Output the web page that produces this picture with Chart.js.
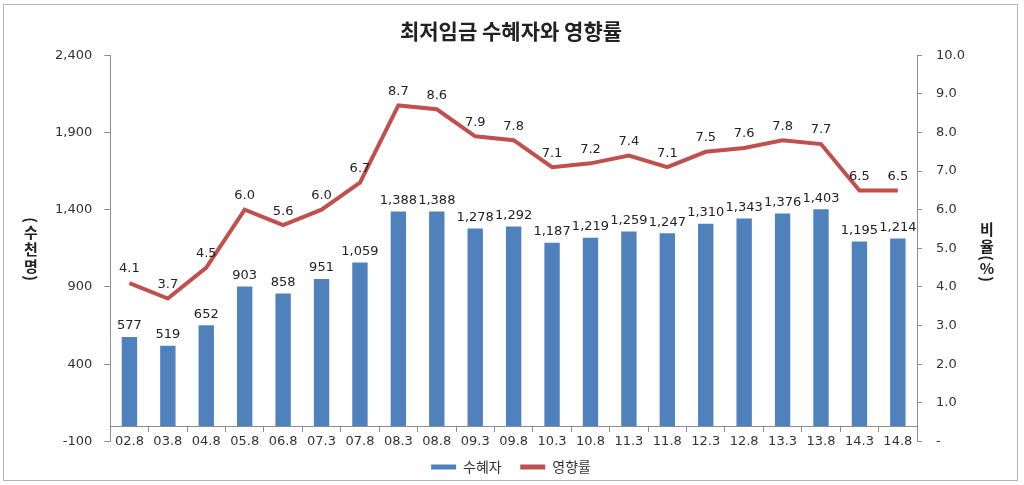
<!DOCTYPE html>
<html><head><meta charset="utf-8">
<script src="https://cdn.jsdelivr.net/npm/chart.js@4.4.1/dist/chart.umd.min.js"></script>
<style>html,body{margin:0;padding:0;background:#fff;}#wrap{position:relative;width:1024px;height:485px;}</style>
</head><body><div id="wrap"><canvas id="c" width="1024" height="485"></canvas></div>
<script>
const categories = ['02.8','03.8','04.8','05.8','06.8','07.3','07.8','08.3','08.8','09.3','09.8','10.3','10.8','11.3','11.8','12.3','12.8','13.3','13.8','14.3','14.8'];
const beneficiaries = [577,519,652,903,858,951,1059,1388,1388,1278,1292,1187,1219,1259,1247,1310,1343,1376,1403,1195,1214];
const impactRate = [4.1,3.7,4.5,6.0,5.6,6.0,6.7,8.7,8.6,7.9,7.8,7.1,7.2,7.4,7.1,7.5,7.6,7.8,7.7,6.5,6.5];
const leftTicks = [-100,400,900,1400,1900,2400];
const rightTicks = [0,1,2,3,4,5,6,7,8,9,10];
const chartTitle = '최저임금 수혜자와 영향률';
const seriesNames = ['수혜자','영향률'];
const leftAxisTitle = '(수천명)';
const rightAxisTitle = '비율(%)';

const KR = '"Noto Sans CJK KR", "Noto Sans", sans-serif';
const NUM = '"DejaVu Sans", sans-serif';
const BLUE = '#4F81BD', RED = '#C0504D', AXIS = '#8c8c8c', TXT = '#333333';
const fmt = v => String(v).replace(/\B(?=(\d{3})+(?!\d))/g, ',');

function drawStack(ctx, x, y, text) {
  const half = ch => (ch === '(' || ch === ')') ? 3.5 : (ch === '%' ? 7 : 8.5);
  let cy = y, prev = null;
  for (const ch of text) {
    if (prev !== null) cy += half(prev) + half(ch);
    if (ch === '(' || ch === ')') {
      ctx.save(); ctx.translate(x, cy); ctx.rotate(Math.PI / 2); ctx.fillText(ch, 0, 0); ctx.restore();
    } else {
      ctx.fillText(ch, x, cy);
    }
    prev = ch;
  }
}

const framePlugin = {
  id: 'frame',
  beforeDraw(chart) {
    const ctx = chart.ctx; ctx.save();
    ctx.fillStyle = '#fff'; ctx.fillRect(0, 0, chart.width, chart.height);
    ctx.strokeStyle = '#b4b4b4'; ctx.lineWidth = 1;
    ctx.strokeRect(3.5, 4.5, 1014, 476);
    ctx.restore();
  },
  afterDraw(chart) {
    const ctx = chart.ctx; ctx.save();
    ctx.font = 'bold 15px ' + KR; ctx.fillStyle = '#222'; ctx.textAlign = 'center'; ctx.textBaseline = 'middle';
    drawStack(ctx, 31, 220, leftAxisTitle);
    drawStack(ctx, 987, 229, rightAxisTitle);
    ctx.restore();
  }
};

const labelPlugin = {
  id: 'vlabels',
  afterDatasetsDraw(chart) {
    const ctx = chart.ctx; ctx.save();
    ctx.font = '13px ' + NUM; ctx.fillStyle = '#222'; ctx.textAlign = 'center'; ctx.textBaseline = 'middle';
    chart.data.datasets.forEach((ds, di) => {
      const meta = chart.getDatasetMeta(di);
      meta.data.forEach((el, i) => {
        const v = ds.data[i];
        const isLine = ds.type === 'line';
        ctx.fillText(isLine ? v.toFixed(1) : fmt(v), el.x, el.y - (isLine ? 14 : 11));
      });
    });
    ctx.restore();
  }
};

new Chart(document.getElementById('c'), {
  data: {
    labels: categories,
    datasets: [
      { type: 'bar', label: seriesNames[0], data: beneficiaries, yAxisID: 'y', backgroundColor: BLUE, order: 2,
        barPercentage: 0.4, categoryPercentage: 1.0 },
      { type: 'line', label: seriesNames[1], data: impactRate, yAxisID: 'y1', borderColor: RED, backgroundColor: RED,
        borderWidth: 4, pointRadius: 0, tension: 0, order: 1 }
    ]
  },
  options: {
    responsive: false, animation: false,
    layout: { padding: { top: 11, left: 43, right: 45, bottom: 1 } },
    plugins: {
      title: { display: true, text: chartTitle, color: '#222', font: { family: KR, size: 21, weight: 'bold' }, padding: { top: 7, bottom: 12 } },
      legend: {
        position: 'bottom',
        labels: {
          boxWidth: 25, boxHeight: 5, padding: 18.5, color: TXT, font: { family: KR, size: 14 },
          generateLabels: chart => chart.data.datasets.map((ds, i) => ({
            text: ds.label, fillStyle: ds.type === 'line' ? RED : BLUE, strokeStyle: 'rgba(0,0,0,0)', lineWidth: 0,
            hidden: false, datasetIndex: i, fontColor: TXT
          }))
        }
      },
      tooltip: { enabled: false }
    },
    scales: {
      x: {
        type: 'category', position: { y: 0 }, offset: true,
        grid: { offset: true, drawOnChartArea: false, drawTicks: true, tickLength: 5, color: AXIS },
        border: { color: AXIS },
        ticks: { font: { family: NUM, size: 13 }, color: TXT, padding: 3, maxRotation: 0, autoSkip: false }
      },
      y: {
        position: 'left', min: -100, max: 2400,
        afterBuildTicks: s => { s.ticks = leftTicks.map(v => ({ value: v })); },
        grid: { drawOnChartArea: false, tickLength: 6, color: AXIS },
        border: { color: AXIS },
        ticks: { font: { family: NUM, size: 13 }, color: TXT, padding: 12, callback: v => fmt(v) }
      },
      y1: {
        position: 'right', min: 0, max: 10,
        afterBuildTicks: s => { s.ticks = rightTicks.map(v => ({ value: v })); },
        grid: { drawOnChartArea: false, tickLength: 5, color: AXIS },
        border: { color: AXIS },
        ticks: { font: { family: NUM, size: 13 }, color: TXT, padding: 14, callback: v => v === 0 ? '-' : v.toFixed(1) }
      }
    }
  },
  plugins: [framePlugin, labelPlugin]
});
</script>
</body></html>
